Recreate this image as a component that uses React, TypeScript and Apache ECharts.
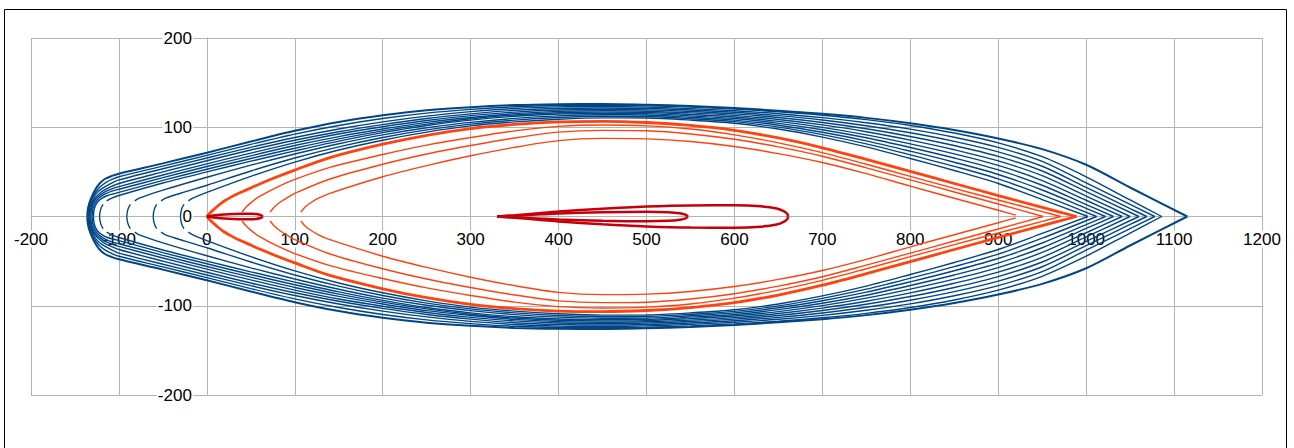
import React, { useEffect, useRef } from 'react';
import * as echarts from 'echarts';

const BLUE = '#004586';
const ORANGE = '#ff420e';
const RED = '#c5000b';
const GAP = null;

// upper halves (the figure is symmetric about y = 0); GAP marks a break in a line
const blue10 = [[-136,0],[-135.5,7],[-134,14],[-131,22],[-127,30],[-122,37],[-116,42],[-108,45.5],[-100,48],[-50,59.5],[0,71.5],[50,84],[100,96],[150,106],[200,113.5],[250,119],[300,122.5],[350,124.8],[400,125.8],[450,126],[500,125.2],[550,123.8],[600,121.5],[650,118.5],[700,115],[750,110.5],[800,104.5],[850,97],[900,87.5],[950,75.5],[1000,58],[1050,32.5],[1115,0]];
const blue9 = [[-135,0],[-134.5,7],[-133,14],[-130,21.5],[-126,28],[-121,33.5],[-115,38],[-108,41.5],[-100,44.5],[-50,56.5],[0,68.5],[50,80.8],[100,92.3],[150,102],[200,109.8],[250,115.8],[300,120],[350,123],[400,124.4],[450,124.6],[500,124],[550,122.5],[600,120.3],[650,117.3],[700,113.5],[750,108.5],[800,102],[850,93.5],[900,82.5],[950,67],[1000,44.5],[1050,18.5],[1086,0]];
const blue8 = [[-134,0],[-133.5,7],[-132,13.5],[-129,20.5],[-125,26.5],[-119,31.5],[-112,35.5],[-106,38.5],[-100,41],[-50,53.5],[0,65.5],[50,77.5],[100,88.5],[150,98],[200,106],[250,112.5],[300,117.5],[350,121],[400,122.8],[450,123.2],[500,122.6],[550,120.9],[600,118.5],[650,115.2],[700,110.8],[750,105.1],[800,97.9],[850,88.8],[900,77.4],[950,61.7],[1000,37.6],[1050,13.5],[1078,0]];
const blue7 = [[-133,0],[-132.5,6.5],[-131,13],[-128,19.5],[-123,25],[-117,29.5],[-110,33],[-100,37],[-50,50],[0,62.5],[50,74.5],[100,85.5],[150,95],[200,103],[250,109.8],[300,115],[350,119],[400,121],[450,121.6],[500,121],[550,119.3],[600,116.8],[650,113],[700,108.1],[750,101.7],[800,93.8],[850,84.2],[900,72.4],[950,56.3],[1000,32.6],[1050,8.9],[1069,0]];
const blue6 = [[-132,0],[-131.5,6.5],[-130,12.5],[-127,18.5],[-122,23.5],[-116,27.5],[-108,31],[-100,33.5],[-50,46.5],[0,59],[50,71],[100,82.5],[150,92.5],[200,100.5],[250,107.5],[300,113],[350,117],[400,119.3],[450,120],[500,119.5],[550,117.7],[600,115],[650,110.9],[700,105.3],[750,98.3],[800,89.7],[850,79.5],[900,67.3],[950,51],[1000,27.8],[1060,0]];
const blue5 = [[-130.5,0],[-130,6],[-128.5,12],[-125.5,17.5],[-121,22],[-115,25.5],[-108,28.5],[-100,30.5],[-50,43.5],[0,56],[50,68],[100,79.5],[150,89.5],[200,98],[250,105.5],[300,111],[350,115.3],[400,117.8],[450,118.5],[500,118],[550,116.1],[600,113.3],[650,108.7],[700,102.6],[750,95],[800,85.6],[850,74.8],[900,62.3],[950,45.7],[1000,22.9],[1050,0]];
const blue4 = [[-129,0],[-128.5,6],[-127,11.5],[-124,16.5],[-119,20.5],[-113,23.5],[-106,25.5],[-100,27],[-50,40.5],[0,53],[50,65],[100,76.5],[150,87],[200,96],[250,103.5],[300,109.5],[350,113.8],[400,116.3],[450,117],[500,116.7],[550,114.4],[600,111.5],[650,106.6],[700,99.9],[750,91.5],[800,81.4],[850,70.2],[900,57.2],[950,40.3],[1000,18.2],[1041,0]];
const blue3 = [[-122,0],[-121.5,5],[-120,10],[-118,13.5],GAP,[-114,17.5],[-108,20.5],[-100,23.5],[-50,37.5],[0,50],[50,62],[100,73.5],[150,84.5],[200,94],[250,102],[300,108],[350,112.3],[400,114.8],[450,115.5],[500,115.3],[550,112.8],[600,109.8],[650,104.4],[700,97.2],[750,88.2],[800,77.3],[850,65.5],[900,52.2],[950,35],[1000,13.4],[1031,0]];
const blue2 = [[-91,0],[-90.5,5],[-89,10],[-87,13.5],GAP,[-82,17.5],[-77,20.5],[-50,29.5],[0,44],[50,57.5],[100,70],[150,81.5],[200,91.5],[250,99.5],[300,105.5],[350,110],[400,112.8],[450,114],[500,113.8],[550,111.2],[600,108],[650,102.3],[700,94.4],[750,84.8],[800,73.2],[850,60.8],[900,47.1],[950,29.7],[1000,9.2],[1022,0]];
const blue1 = [[-61,0],[-60.5,5],[-59,10],[-57,13.5],GAP,[-52,17.5],[-47,20.5],[-25,27.5],[0,35],[50,51],[100,65.5],[150,78],[200,88.5],[250,97],[300,103.5],[350,108],[400,111],[450,112.3],[500,112],[550,109.6],[600,106.3],[650,100.1],[700,91.7],[750,81.4],[800,69.1],[850,56.2],[900,42.1],[950,24.3],[1012,0]];
const blue0 = [[-30,0],[-29.5,5],[-28,10],[-26,13.5],GAP,[-21,17.5],[-16,20.5],[0,27],[50,45],[100,61],[150,74.5],[200,85.5],[250,94.5],[300,101.5],[350,106],[400,109],[450,110.5],[500,110.3],[550,108],[600,104.5],[650,98],[700,89],[750,78],[800,65],[850,51.5],[900,37],[950,19],[1002,0]];

const orange3 = [[0,0],[3,3.5],[7.5,7.5],[12,11.5],[19,16.8],[28,22],[38,26.8],[50,32],[60,36.5],[80,44.5],[100,52],[140,66],[200,81],[250,91],[300,98.5],[350,103.2],[400,106],[450,106.6],[500,105.3],[550,102],[600,96.5],[650,88],[700,77],[750,64],[800,50.5],[850,37],[900,23.5],[950,10.2],[989,0]];
const orange2 = [[40,5],[45,11],[52,17],[60,22.5],[80,33],[100,41.5],[140,55],[200,69.5],[250,80],[300,88.5],[350,96],[400,101],[450,102.5],[500,101.5],[550,98],[600,91.5],[650,82.5],[700,71.5],[750,58.5],[800,45],[850,31.5],[900,18.5],[950,5.5],[971,0]];
const orange1 = [[72,5],[77,11],[84,16.5],[92,21.5],[100,26],[140,42],[200,58.5],[250,70],[300,79.5],[350,88],[400,94.5],[450,96.5],[500,96],[550,92.5],[600,86.5],[650,78],[700,67.5],[750,54.5],[800,41],[850,27.5],[900,14],[951,0]];
const orange0 = [[107,5],[112,11],[119,16],[127,20.5],[140,26],[200,44.5],[250,57],[300,68],[350,77.5],[400,85],[450,87.5],[500,87],[550,84],[600,78.5],[650,70.5],[700,60.5],[750,48],[800,34],[850,20.5],[900,7],[920,1.5]];

const red0 = [[0,0],[5,0.9],[10,1.5],[20,2.3],[30,2.8],[40,3.1],[50,3.1],[56,2.7],[60,2],[62.5,1.1],[63.3,0]];
const red1 = [[330,0],[350,0.9],[380,2.4],[400,3.3],[450,4.8],[500,5.4],[525,4.9],[538,3.6],[545,1.8],[547,0]];
const red2 = [[330,0],[350,1.4],[380,3.8],[400,5.5],[450,8.8],[500,11.2],[550,12.4],[600,12.5],[630,11.4],[648,9],[656,6],[660,3],[661,0]];

const curves = [
  { pts: blue0, color: BLUE, width: 1.4, z: 2 },
  { pts: blue1, color: BLUE, width: 1.4, z: 2 },
  { pts: blue2, color: BLUE, width: 1.4, z: 2 },
  { pts: blue3, color: BLUE, width: 1.4, z: 2 },
  { pts: blue4, color: BLUE, width: 1.4, z: 2 },
  { pts: blue5, color: BLUE, width: 1.4, z: 2 },
  { pts: blue6, color: BLUE, width: 1.4, z: 2 },
  { pts: blue7, color: BLUE, width: 1.4, z: 2 },
  { pts: blue8, color: BLUE, width: 1.4, z: 2 },
  { pts: blue9, color: BLUE, width: 1.4, z: 2 },
  { pts: blue10, color: BLUE, width: 2, z: 2 },
  { pts: orange0, color: ORANGE, width: 1.4, z: 3 },
  { pts: orange1, color: ORANGE, width: 1.4, z: 3 },
  { pts: orange2, color: ORANGE, width: 1.4, z: 3 },
  { pts: orange3, color: ORANGE, width: 2.8, z: 3 },
  { pts: red0, color: RED, width: 2.5, z: 4 },
  { pts: red1, color: RED, width: 2.5, z: 4 },
  { pts: red2, color: RED, width: 2.5, z: 4 },
];

const FONT = '"Liberation Sans", Arial, sans-serif';

// grid geometry (pixels)
const GRID = { left: 31, right: 32, top: 38, bottom: 53 };
const W = 1294;
const H = 448;
const X_MIN = -200, X_MAX = 1200, Y_MIN = -200, Y_MAX = 200;

export default function App() {
  const ref = useRef<HTMLDivElement>(null);
  useEffect(() => {
    if (!ref.current) return;
    const chart = echarts.init(ref.current, undefined, { renderer: 'svg' });
    const series: any[] = [];
    curves.forEach((c, i) => {
      const upper = c.pts.map((p: any) => (p === null ? '-' : [p[0], p[1]]));
      const lower = c.pts.map((p: any) => (p === null ? '-' : [p[0], -p[1]]));
      [upper, lower].forEach((d, h) => {
        series.push({
          type: 'line',
          name: 'c' + i + '_' + h,
          data: d,
          showSymbol: false,
          symbol: 'none',
          smooth: 0.3,
          connectNulls: false,
          silent: true,
          lineStyle: { color: c.color, width: c.width },
          z: c.z,
        });
      });
    });
    const plotW = W - GRID.left - GRID.right;
    const plotH = H - GRID.top - GRID.bottom;
    // move the axes to cross at the origin
    const xOffset = -((0 - Y_MIN) / (Y_MAX - Y_MIN)) * plotH;
    const yOffset = -((0 - X_MIN) / (X_MAX - X_MIN)) * plotW;
    const labelStyle = {
      fontSize: 17,
      color: '#000',
      fontFamily: FONT,
      margin: 14,
      backgroundColor: '#fff',
      padding: [0, 1],
      formatter: (v: number) => String(v),
    };
    chart.setOption({
      animation: false,
      grid: { ...GRID, outerBoundsMode: 'none', containLabel: false },
      xAxis: {
        type: 'value', min: X_MIN, max: X_MAX, interval: 100,
        position: 'bottom',
        offset: xOffset,
        axisLine: { show: true, onZero: false, lineStyle: { color: '#b3b3b3', width: 1 } },
        axisTick: { show: false },
        splitLine: { show: true, lineStyle: { color: '#b3b3b3', width: 1 } },
        axisLabel: labelStyle,
      },
      yAxis: {
        type: 'value', min: Y_MIN, max: Y_MAX, interval: 100,
        position: 'left',
        offset: yOffset,
        axisLine: { show: true, onZero: false, lineStyle: { color: '#b3b3b3', width: 1 } },
        axisTick: { show: false },
        splitLine: { show: true, lineStyle: { color: '#b3b3b3', width: 1 } },
        axisLabel: labelStyle,
      },
      graphic: [
        {
          type: 'rect',
          shape: { x: 4.5, y: 9.5, width: 1282, height: 460 },
          style: { fill: 'none', stroke: '#000', lineWidth: 1 },
          silent: true,
        },
      ],
      series,
    });
    return () => chart.dispose();
  }, []);
  return (
    <div
      ref={ref}
      style={{ position: 'fixed', left: 0, top: 0, width: W, height: H, background: '#fff' }}
    />
  );
}
